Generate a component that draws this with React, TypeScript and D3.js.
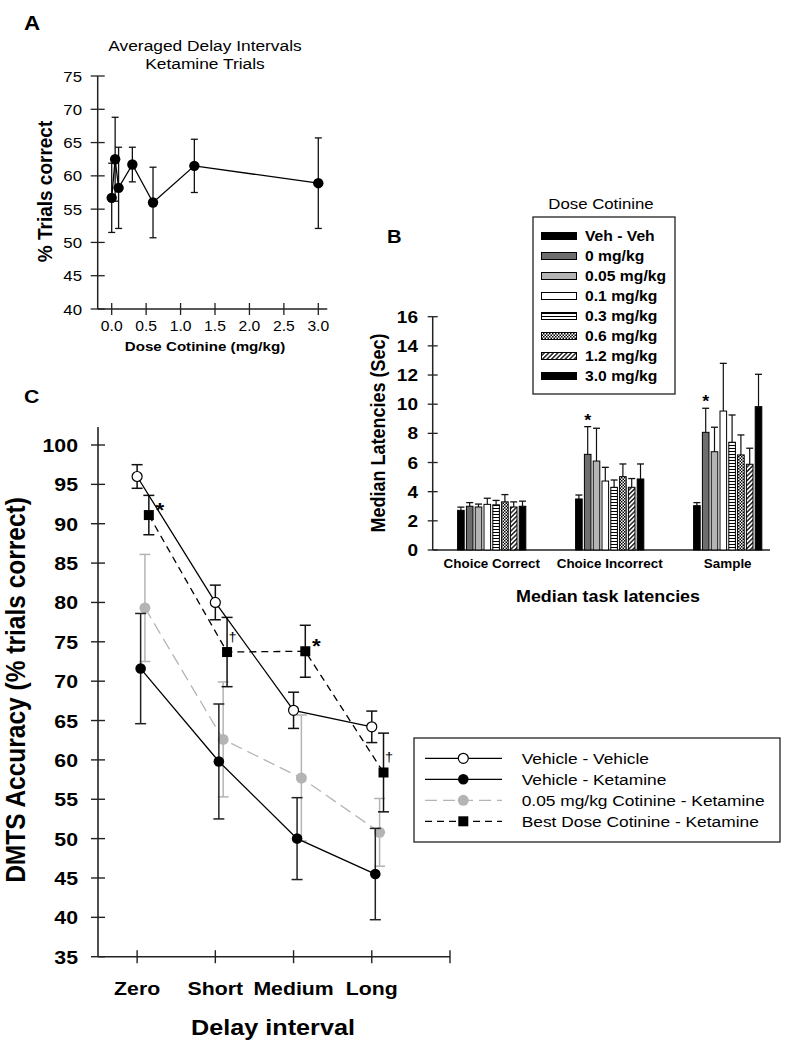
import React from "react";
import * as d3 from "d3";

const FONT = "Arial, 'Liberation Sans', sans-serif";
const SX = 1.12;

// ---------- Panel A data ----------
const doseA = [0, 0.05, 0.1, 0.3, 0.6, 1.2, 3.0];
const pctCorrectA = [56.7, 62.5, 58.2, 61.7, 56.0, 61.5, 58.9];
const semA = [5.2, 6.3, 6.1, 2.6, 5.3, 4.0, 6.8];
const yTicksA = [40, 45, 50, 55, 60, 65, 70, 75];
const xTicksA = [0, 0.5, 1.0, 1.5, 2.0, 2.5, 3.0];
const xTickLabelsA = ["0.0", "0.5", "1.0", "1.5", "2.0", "2.5", "3.0"];

// ---------- Panel B data ----------
const latencyGroups = ["Choice Correct", "Choice Incorrect", "Sample"];
const doseGroups = ["Veh - Veh", "0 mg/kg", "0.05 mg/kg", "0.1 mg/kg", "0.3 mg/kg", "0.6 mg/kg", "1.2 mg/kg", "3.0 mg/kg"];
const latVehVeh = [2.72, 3.5, 3.04];
const semVehVeh = [0.22, 0.27, 0.21];
const lat0 = [3.0, 6.56, 8.07];
const sem0 = [0.25, 1.9, 1.65];
const lat005 = [2.95, 6.1, 6.74];
const sem005 = [0.2, 2.25, 1.68];
const lat01 = [3.13, 4.73, 9.53];
const sem01 = [0.42, 0.94, 3.27];
const lat03 = [3.1, 4.3, 7.39];
const sem03 = [0.3, 0.5, 1.87];
const lat06 = [3.3, 5.03, 6.52];
const sem06 = [0.5, 0.87, 1.37];
const lat12 = [2.95, 4.3, 5.88];
const sem12 = [0.35, 0.6, 1.1];
const lat30 = [3.0, 4.87, 9.83];
const sem30 = [0.35, 1.03, 2.22];
const latMeans = [latVehVeh, lat0, lat005, lat01, lat03, lat06, lat12, lat30];
const latSems = [semVehVeh, sem0, sem005, sem01, sem03, sem06, sem12, sem30];
const yTicksB = [0, 2, 4, 6, 8, 10, 12, 14, 16];
const starredB = [[1, 1], [2, 1]]; // [group, dose]

// ---------- Panel C data ----------
const delayLabels = ["Zero", "Short", "Medium", "Long"];
const vvMean = [96.0, 80.0, 66.3, 64.2];
const vvErr = [1.5, 2.2, 2.3, 2.0];
const vkMean = [71.6, 59.8, 50.0, 45.5];
const vkErr = [7.0, 7.3, 5.2, 5.8];
const cotMean = [79.3, 62.6, 57.7, 50.8];
const cotErr = [6.8, 7.3, 8.0, 4.3];
const bestMean = [91.1, 73.7, 73.8, 58.4];
const bestErr = [2.5, 4.4, 3.3, 5.0];
const yTicksC = [35, 40, 45, 50, 55, 60, 65, 70, 75, 80, 85, 90, 95, 100];
const xTicksC = [0, 1, 2, 3, 4];
const seriesNamesC = ["Vehicle - Vehicle", "Vehicle - Ketamine", "0.05 mg/kg Cotinine - Ketamine", "Best Dose Cotinine - Ketamine"];
const starIdxC = [0, 2];
const daggerIdxC = [1, 3];

// ---------- styles ----------
const barFills = ["#000", "#6e6e6e", "#b4b4b4", "#fff", "url(#hstripe)", "url(#checker)", "url(#diag)", "#000"];
const AX = "#222";

function HT({ x, y, size, weight = "normal", anchor = "start", fill = "#000", children }: any) {
  return (
    <text transform={`translate(${x},${y}) scale(${SX},1)`} fontSize={size} fontWeight={weight}
      textAnchor={anchor} fill={fill} fontFamily={FONT}>{children}</text>
  );
}
function VT({ x, y, size, weight = "bold", children }: any) {
  return (
    <text transform={`translate(${x},${y}) rotate(-90) scale(1,1.1)`} fontSize={size} fontWeight={weight}
      textAnchor="middle" fill="#000" fontFamily={FONT}>{children}</text>
  );
}

function PanelA() {
  const x = d3.scaleLinear().domain([0, 3]).range([111.7, 318.3]);
  const y = d3.scaleLinear().domain([40, 75]).range([309, 76]);
  const x0 = 97.7;
  const line = d3.line<number>().x((_, i) => x(doseA[i])).y((d) => y(d));
  return (
    <g>
      <HT x={24} y={30} size={20} weight="bold">A</HT>
      <HT x={205} y={51} size={15.5} anchor="middle">Averaged Delay Intervals</HT>
      <HT x={205} y={69} size={15.5} anchor="middle">Ketamine Trials</HT>
      <line x1={x0} x2={x0} y1={y(75)} y2={y(40)} stroke={AX} strokeWidth={1.5} />
      <line x1={x0} x2={x(3.13)} y1={y(40)} y2={y(40)} stroke={AX} strokeWidth={1.5} />
      {yTicksA.map((t) => (
        <g key={t}>
          <line x1={x0 - 7} x2={x0 + 7} y1={y(t)} y2={y(t)} stroke={AX} strokeWidth={1.3} />
          <HT x={82} y={y(t) + 5.5} size={15} anchor="end">{t}</HT>
        </g>
      ))}
      {xTicksA.map((t, i) => (
        <g key={t}>
          <line x1={x(t)} x2={x(t)} y1={y(40) - 6} y2={y(40) + 6} stroke={AX} strokeWidth={1.3} />
          <HT x={x(t)} y={331} size={14} anchor="middle">{xTickLabelsA[i]}</HT>
        </g>
      ))}
      <HT x={205} y={351} size={13.5} weight="bold" anchor="middle">Dose Cotinine (mg/kg)</HT>
      <VT x={52} y={191.5} size={19}>% Trials correct</VT>
      {doseA.map((d, i) => (
        <g key={i} stroke="#111" strokeWidth={1.3}>
          <line x1={x(d)} x2={x(d)} y1={y(pctCorrectA[i] - semA[i])} y2={y(pctCorrectA[i] + semA[i])} />
          <line x1={x(d) - 3.5} x2={x(d) + 3.5} y1={y(pctCorrectA[i] + semA[i])} y2={y(pctCorrectA[i] + semA[i])} />
          <line x1={x(d) - 3.5} x2={x(d) + 3.5} y1={y(pctCorrectA[i] - semA[i])} y2={y(pctCorrectA[i] - semA[i])} />
        </g>
      ))}
      <path d={line(pctCorrectA) || ""} fill="none" stroke="#000" strokeWidth={1.3} />
      {doseA.map((d, i) => (
        <circle key={i} cx={x(d)} cy={y(pctCorrectA[i])} r={5.2} fill="#000" />
      ))}
    </g>
  );
}

function PanelB() {
  const y = d3.scaleLinear().domain([0, 16]).range([550, 316.7]);
  const x0 = d3.scaleBand().domain(latencyGroups).range([432.7, 786.7]).paddingInner(0.407).paddingOuter(0.2035);
  const x1 = d3.scaleBand().domain(doseGroups).range([0, x0.bandwidth()]).paddingInner(0.25).paddingOuter(0.1);
  const ax = 432.7;
  return (
    <g>
      <defs>
        <pattern id="hstripe" patternUnits="userSpaceOnUse" width={4} height={3}>
          <rect width={4} height={3} fill="#fff" />
          <line x1={0} x2={4} y1={1.5} y2={1.5} stroke="#000" strokeWidth={1} />
        </pattern>
        <pattern id="checker" patternUnits="userSpaceOnUse" width={3} height={3}>
          <rect width={3} height={3} fill="#fff" />
          <rect width={1.5} height={1.5} fill="#000" />
          <rect x={1.5} y={1.5} width={1.5} height={1.5} fill="#000" />
        </pattern>
        <pattern id="diag" patternUnits="userSpaceOnUse" width={3.2} height={3.2} patternTransform="rotate(45)">
          <rect width={3.2} height={3.2} fill="#fff" />
          <line x1={0.8} x2={0.8} y1={0} y2={3.2} stroke="#000" strokeWidth={1.3} />
        </pattern>
      </defs>
      <HT x={387} y={243} size={18} weight="bold">B</HT>
      {/* legend */}
      <HT x={601} y={209} size={15} anchor="middle">Dose Cotinine</HT>
      <rect x={533} y={217} width={142} height={177} fill="#fff" stroke="#222" strokeWidth={1.3} />
      {doseGroups.map((g, i) => (
        <g key={g}>
          <rect x={541.5} y={236 + i * 20 - 3.5} width={35} height={7} fill={barFills[i]} stroke="#000" strokeWidth={1} />
          <HT x={585} y={236 + i * 20 + 5} size={14} weight="bold">{g}</HT>
        </g>
      ))}
      {/* axes */}
      <line x1={ax} x2={ax} y1={y(16)} y2={y(0)} stroke={AX} strokeWidth={1.5} />
      <line x1={ax} x2={770} y1={y(0)} y2={y(0)} stroke={AX} strokeWidth={1.5} />
      {yTicksB.map((t) => (
        <g key={t}>
          <line x1={ax - 5} x2={ax + 5} y1={y(t)} y2={y(t)} stroke={AX} strokeWidth={1.3} />
          <HT x={418} y={y(t) + 6} size={17} weight="bold" anchor="end">{t}</HT>
        </g>
      ))}
      {latencyGroups.map((g, gi) => (
        <g key={g}>
          {doseGroups.map((d, di) => {
            const bx = (x0(g) as number) + (x1(d) as number);
            const bw = x1.bandwidth();
            const v = latMeans[di][gi];
            const e = latSems[di][gi];
            const cx = bx + bw / 2;
            return (
              <g key={d}>
                <line x1={cx} x2={cx} y1={y(v)} y2={y(v + e)} stroke="#111" strokeWidth={1.2} />
                <line x1={cx - 3.5} x2={cx + 3.5} y1={y(v + e)} y2={y(v + e)} stroke="#111" strokeWidth={1.3} />
                <rect x={bx} y={y(v)} width={bw} height={y(0) - y(v)} fill={barFills[di]} stroke="#000" strokeWidth={1} />
              </g>
            );
          })}
          <HT x={(x0(g) as number) + x0.bandwidth() / 2} y={568} size={12} weight="bold" anchor="middle">{g}</HT>
        </g>
      ))}
      {starredB.map(([gi, di], k) => {
        const g = latencyGroups[gi];
        const d = doseGroups[di];
        const cx = (x0(g) as number) + (x1(d) as number) + x1.bandwidth() / 2;
        return (
          <HT key={k} x={cx} y={y(latMeans[di][gi] + latSems[di][gi]) - 1} size={16} weight="bold" anchor="middle">*</HT>
        );
      })}
      <HT x={608} y={602} size={16} weight="bold" anchor="middle">Median task latencies</HT>
      <VT x={385} y={433} size={18}>Median Latencies (Sec)</VT>
    </g>
  );
}

function PanelC() {
  const y = d3.scaleLinear().domain([35, 100]).range([956.7, 445]);
  const x = d3.scaleLinear().domain([-0.5, 4]).range([98, 450]);
  const ax = 98;
  const shifts = [0, 0.045, 0.1, 0.15];
  const means = [vvMean, vkMean, cotMean, bestMean];
  const errs = [vvErr, vkErr, cotErr, bestErr];
  const lineColors = ["#000", "#000", "#b4b4b4", "#000"];
  const errColors = ["#111", "#222", "#b4b4b4", "#111"];
  const dashes = [undefined, undefined, "12,6", "7,5"];
  const mkLine = (s: number) =>
    d3.line<number>().x((_, i) => x(i + shifts[s])).y((d) => y(d));
  const marker = (s: number, cx: number, cy: number, key: any) => {
    if (s === 0) return <circle key={key} cx={cx} cy={cy} r={5} fill="#fff" stroke="#000" strokeWidth={1.2} />;
    if (s === 1) return <circle key={key} cx={cx} cy={cy} r={5.3} fill="#000" />;
    if (s === 2) return <circle key={key} cx={cx} cy={cy} r={5.5} fill="#b4b4b4" />;
    return <rect key={key} x={cx - 5} y={cy - 5} width={10} height={10} fill="#000" />;
  };
  const drawOrder = [2, 1, 3, 0];
  return (
    <g>
      <HT x={24} y={403} size={19} weight="bold">C</HT>
      <line x1={ax} x2={ax} y1={y(102.3)} y2={y(35)} stroke={AX} strokeWidth={1.6} />
      <line x1={ax} x2={x(4)} y1={y(35)} y2={y(35)} stroke={AX} strokeWidth={1.6} />
      {yTicksC.map((t) => (
        <g key={t}>
          <line x1={ax - 7} x2={ax + 7} y1={y(t)} y2={y(t)} stroke={AX} strokeWidth={1.4} />
          <HT x={78} y={y(t) + 7} size={19} weight="bold" anchor="end">{t}</HT>
        </g>
      ))}
      {xTicksC.map((t) => (
        <line key={t} x1={x(t)} x2={x(t)} y1={y(35) - 6.5} y2={y(35) + 6.5} stroke={AX} strokeWidth={1.4} />
      ))}
      {delayLabels.map((l, i) => (
        <HT key={l} x={x(i)} y={995} size={19} weight="bold" anchor="middle">{l}</HT>
      ))}
      <HT x={273} y={1035} size={22.5} weight="bold" anchor="middle">Delay interval</HT>
      <VT x={25} y={690} size={24.5}>DMTS Accuracy (% trials correct)</VT>
      {drawOrder.map((s) => (
        <g key={`s${s}`}>
          {means[s].map((m, i) => {
            const cx = x(i + shifts[s]);
            return (
              <g key={i} stroke={errColors[s]} strokeWidth={1.5}>
                <line x1={cx} x2={cx} y1={y(m - errs[s][i])} y2={y(m + errs[s][i])} />
                <line x1={cx - 5.5} x2={cx + 5.5} y1={y(m + errs[s][i])} y2={y(m + errs[s][i])} />
                <line x1={cx - 5.5} x2={cx + 5.5} y1={y(m - errs[s][i])} y2={y(m - errs[s][i])} />
              </g>
            );
          })}
          <path d={mkLine(s)(means[s]) || ""} fill="none" stroke={lineColors[s]} strokeWidth={1.3}
            strokeDasharray={dashes[s]} />
          {means[s].map((m, i) => marker(s, x(i + shifts[s]), y(m), i))}
        </g>
      ))}
      {starIdxC.map((i) => (
        <HT key={`st${i}`} x={x(i + shifts[3]) + 11} y={y(bestMean[i]) + 2} size={20} weight="bold" anchor="middle">*</HT>
      ))}
      {daggerIdxC.map((i) => (
        <HT key={`dg${i}`} x={x(i + shifts[3]) + 5.5} y={y(bestMean[i]) - 11} size={13} anchor="middle">†</HT>
      ))}
      {/* legend */}
      <rect x={414} y={738} width={366} height={104} fill="#fff" stroke="#222" strokeWidth={1.3} />
      {seriesNamesC.map((n, s) => {
        const ry = 758.3 + s * 21;
        return (
          <g key={n}>
            <line x1={425} x2={502} y1={ry} y2={ry} stroke={lineColors[s]} strokeWidth={1.3} strokeDasharray={dashes[s]} />
            {marker(s, 463.3, ry, "m")}
            <HT x={521.7} y={ry + 5.5} size={15.5}>{n}</HT>
          </g>
        );
      })}
    </g>
  );
}

export default function App() {
  return (
    <div style={{ position: "absolute", left: 0, top: 0 }}>
      <svg width={793} height={1050} viewBox="0 0 793 1050" style={{ display: "block", background: "#fff" }}>
        <rect width={793} height={1050} fill="#fff" />
        <PanelA />
        <PanelB />
        <PanelC />
      </svg>
    </div>
  );
}
